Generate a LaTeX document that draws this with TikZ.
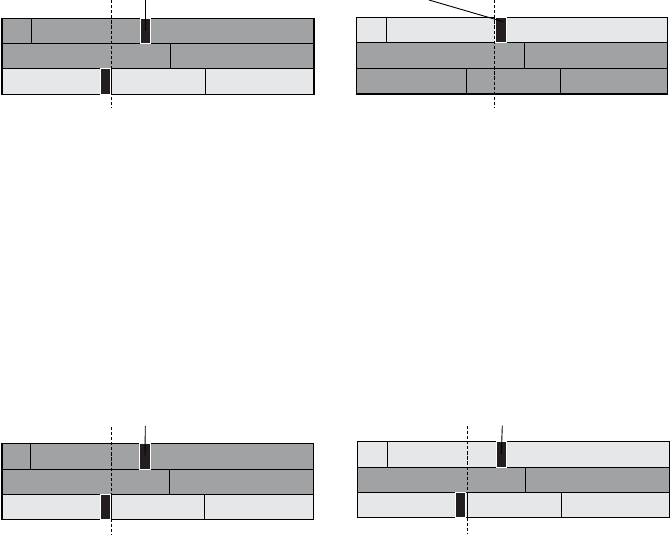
\documentclass[tikz,border=0pt]{standalone}
\definecolor{cdark}{HTML}{A1A2A4}
\definecolor{clight}{HTML}{E6E7E8}
\definecolor{cmark}{HTML}{231F20}
\begin{document}
\begin{tikzpicture}[x=1pt,y=-1pt,
 dk/.style={fill=cdark,draw=black,line width=1pt},
 lt/.style={fill=clight,draw=black,line width=1pt},
 frame/.style={draw=black,line width=1.5pt},
 mk/.style={draw=white,fill=cmark,line width=1pt,inner sep=0pt,outer sep=0pt,minimum height=25.3pt},
 lead/.style={draw=black,line width=0.9pt},
 cut/.style={draw=black,line width=1.5pt,dash pattern=on 3.3pt off 1.8pt}]
\useasboundingbox (0,0) rectangle (671,537);
% ---------- panel 1 (top left)
\path[dk] (2,18.3) rectangle (31.7,43.3);
\path[dk] (31.7,18.3) rectangle (314,43.3);
\path[dk] (2,43.3) rectangle (170,69);
\path[dk] (170,43.3) rectangle (314,69);
\path[lt] (2,69) rectangle (111.5,94.3);
\path[lt] (111.5,69) rectangle (205.3,94.3);
\path[lt] (205.3,69) rectangle (314,94.3);
\path[frame] (2,18.3) rectangle (314,94.3);
\node[mk,minimum width=10.7pt] (m1a) at (145.35,30.8) {};
\node[mk,minimum width=10.7pt] (m1b) at (105.35,81.65) {};
\coordinate (l1) at (145.35,0);
\draw[lead] (l1) -- (m1a.center);
\coordinate (d1t) at (111.3,0);
\coordinate (d1b) at (111.3,108);
\draw[cut] (d1t) -- (d1b);
% ---------- panel 2 (top right)
\path[lt] (356.7,17.3) rectangle (386,42.7);
\path[lt] (386,17.3) rectangle (667.7,42.7);
\path[dk] (356.7,42.7) rectangle (524.3,68.3);
\path[dk] (524.3,42.7) rectangle (667.7,68.3);
\path[dk] (356.7,68.3) rectangle (466.3,94);
\path[dk] (466.3,68.3) rectangle (560,94);
\path[dk] (560,68.3) rectangle (667.7,94);
\path[frame] (356.7,17.3) rectangle (667.7,94);
\node[mk,minimum width=10.6pt] (m2a) at (501,30) {};
\coordinate (l2) at (429,0);
\draw[lead] (l2) -- ([shift={(2.3,-8.3)}]m2a.center);
\coordinate (d2t) at (494.7,0);
\coordinate (d2b) at (494.7,108);
\draw[cut] (d2t) -- (d2b);
% ---------- panel 3 (bottom left)
\path[dk] (2,443.7) rectangle (30.3,469);
\path[dk] (30.3,443.7) rectangle (313.3,469);
\path[dk] (2,469) rectangle (169,494.3);
\path[dk] (169,469) rectangle (313.3,494.3);
\path[lt] (2,494.3) rectangle (111.7,519.7);
\path[lt] (111.7,494.3) rectangle (204.7,519.7);
\path[lt] (204.7,494.3) rectangle (313.3,519.7);
\path[frame] (2,443.7) rectangle (313.3,519.7);
\node[mk,minimum width=10.6pt] (m3a) at (145,456.35) {};
\node[mk,minimum width=9.6pt] (m3b) at (105.5,507) {};
\coordinate (l3) at (145.3,426);
\draw[lead] (l3) -- (m3a.center);
\coordinate (d3t) at (111.3,426.7);
\coordinate (d3b) at (111.3,535);
\draw[cut] (d3t) -- (d3b);
% ---------- panel 4 (bottom right)
\path[lt] (357.7,441.7) rectangle (387.3,467);
\path[lt] (387.3,441.7) rectangle (669.3,467);
\path[dk] (357.7,467) rectangle (525.3,492.3);
\path[dk] (525.3,467) rectangle (669.3,492.3);
\path[lt] (357.7,492.3) rectangle (467.3,517.7);
\path[lt] (467.3,492.3) rectangle (561.3,517.7);
\path[lt] (561.3,492.3) rectangle (669.3,517.7);
\path[frame] (357.7,441.7) rectangle (669.3,517.7);
\node[mk,minimum width=10pt] (m4a) at (501.3,454.35) {};
\node[mk,minimum width=10pt] (m4b) at (460.7,505) {};
\coordinate (l4) at (502.3,425.7);
\draw[lead] (l4) -- (m4a.center);
\coordinate (d4t) at (467.3,425.7);
\coordinate (d4b) at (467.3,533.3);
\draw[cut] (d4t) -- (d4b);
\end{tikzpicture}
\end{document}
